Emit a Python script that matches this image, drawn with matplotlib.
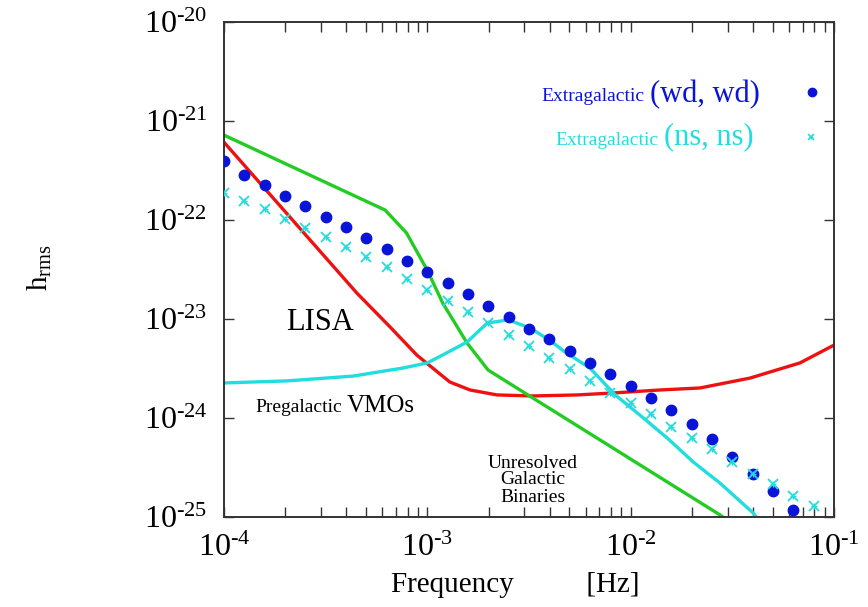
import numpy as np
import matplotlib
matplotlib.use("Agg")
import matplotlib.pyplot as plt
from matplotlib.ticker import LogLocator, NullFormatter, FixedLocator

# ---------------- data ----------------
# Extragalactic (wd, wd): frequencies 1e-4 * 10^(0.1 k)
wd_exp = [-4.0 + 0.1 * k for k in range(29)]
wd_h = [3.9e-22, 2.85e-22, 2.26e-22, 1.75e-22, 1.38e-22, 1.07e-22, 8.5e-23, 6.6e-23,
        5.1e-23, 3.85e-23, 2.98e-23, 2.31e-23, 1.79e-23, 1.35e-23, 1.05e-23, 7.9e-24,
        6.3e-24, 4.75e-24, 3.6e-24, 2.78e-24, 2.1e-24, 1.59e-24, 1.2e-24, 8.7e-25,
        6.1e-25, 4.0e-25, 2.7e-25, 1.83e-25, 1.18e-25]

# Extragalactic (ns, ns)
ns_exp = [-4.0 + 0.1 * k for k in range(30)]
ns_h = [1.87e-22, 1.56e-22, 1.29e-22, 1.02e-22, 8.3e-23, 6.7e-23, 5.3e-23, 4.2e-23,
        3.35e-23, 2.53e-23, 1.96e-23, 1.52e-23, 1.18e-23, 9.1e-24, 6.9e-24, 5.3e-24,
        4.0e-24, 3.1e-24, 2.37e-24, 1.79e-24, 1.42e-24, 1.10e-24, 8.1e-25, 6.3e-25,
        4.9e-25, 3.6e-25, 2.7e-25, 2.15e-25, 1.63e-25, 1.29e-25]

# LISA sensitivity
lisa_f = [1e-4, 4.5e-4, 6.56e-4, 8.9e-4, 1.29e-3, 1.62e-3, 2.2e-3, 3.3e-3, 5.45e-3,
          8.2e-3, 1.4e-2, 2.19e-2, 3.86e-2, 6.8e-2, 1e-1]
lisa_h = [6.1e-22, 1.83e-23, 8.3e-24, 4.3e-24, 2.31e-24, 1.92e-24, 1.71e-24, 1.67e-24,
          1.71e-24, 1.79e-24, 1.92e-24, 2.01e-24, 2.53e-24, 3.6e-24, 5.45e-24]

# Unresolved galactic binaries
gal_f = [1e-4, 6.2e-4, 7.9e-4, 1.0e-3, 1.19e-3, 1.57e-3, 1.99e-3, 2.75e-2, 3.2e-2]
gal_h = [7.2e-22, 1.26e-22, 7.4e-23, 3.1e-23, 1.45e-23, 5.7e-24, 3.05e-24, 1.05e-25, 8.3e-26]

# Pregalactic VMOs
vmo_f = [1e-4, 2.04e-4, 4.31e-4, 7.6e-4, 1.0e-3, 1.19e-3, 1.57e-3, 1.97e-3, 2.5e-3,
         3.2e-3, 4.0e-3, 4.75e-3, 6.3e-3, 8.4e-3, 1.11e-2, 1.51e-2, 2.03e-2, 2.75e-2,
         4.0e-2, 4.4e-2]
vmo_h = [2.26e-24, 2.37e-24, 2.65e-24, 3.2e-24, 3.6e-24, 4.33e-24, 5.86e-24, 9.1e-24,
         9.8e-24, 8.1e-24, 6.1e-24, 4.65e-24, 3.2e-24, 1.71e-24, 1.07e-24, 6.3e-25,
         3.6e-25, 2.2e-25, 1.1e-25, 8.5e-26]

x_ticks = [1e-4, 1e-3, 1e-2, 1e-1]
x_exps = ["-4", "-3", "-2", "-1"]
y_ticks = [1e-25, 1e-24, 1e-23, 1e-22, 1e-21, 1e-20]
y_exps = ["-25", "-24", "-23", "-22", "-21", "-20"]

wd_f = [10 ** e for e in wd_exp]
ns_f = [10 ** e for e in ns_exp]

# ---------------- plot ----------------
serif = ["Liberation Serif", "DejaVu Serif"]
plt.rcParams["font.family"] = serif
plt.rcParams["mathtext.fontset"] = "custom"
plt.rcParams["mathtext.rm"] = "Liberation Serif"
plt.rcParams["mathtext.it"] = "Liberation Serif"
plt.rcParams["axes.unicode_minus"] = False

fig = plt.figure(figsize=(8.68, 6.07), dpi=100)
ax = fig.add_axes([224 / 868, 1 - 517 / 607, (834 - 224) / 868, (517 - 22) / 607])

red = "#ee1111"
green = "#22cc22"
cyan = "#22dddd"
blue = "#0a14d8"

ax.plot(lisa_f, lisa_h, color=red, lw=2.4)
ax.plot(gal_f, gal_h, color=green, lw=2.4)
ax.plot(vmo_f, vmo_h, color=cyan, lw=2.4)
ax.plot(wd_f, wd_h, ls="none", marker="o", ms=7.5, color=blue, zorder=3)
ax.plot(ns_f, ns_h, ls="none", marker="x", ms=7, mew=1.3, color=cyan, zorder=3)
ax.plot(ns_f, ns_h, ls="none", marker="+", ms=4, mew=0.8, color=cyan, zorder=3)

ax.set_xscale("log")
ax.set_yscale("log")
ax.set_xlim(1e-4, 1e-1)
ax.set_ylim(1e-25, 1e-20)

ax.xaxis.set_major_locator(FixedLocator(x_ticks))
ax.xaxis.set_minor_locator(LogLocator(base=10, subs=np.arange(2, 10)))
ax.xaxis.set_minor_formatter(NullFormatter())
ax.yaxis.set_major_locator(FixedLocator(y_ticks))
ax.yaxis.set_minor_locator(FixedLocator([]))

ax.set_xticklabels([r"$10^{\mathrm{%s}}$" % e.replace("-", "\u2010") for e in x_exps])
ax.set_yticklabels([r"$10^{\mathrm{%s}}$" % e.replace("-", "\u2010") for e in y_exps])

ax.tick_params(which="both", direction="in", top=True, right=True, length=7,
               width=1.0, color="#333333", labelsize=23)
ax.tick_params(axis="y", which="major", pad=12)
ax.tick_params(axis="x", which="major", pad=12)
for s in ax.spines.values():
    s.set_linewidth(1.4)
    s.set_color("#333333")

fig.text(515 / 868, 1 - 585 / 607, "Frequency          [Hz]", ha="center", va="center",
         fontsize=21)
fig.text(40 / 868, 1 - 268 / 607, r"h$_{\rm rms}$", rotation=90, ha="center",
         va="center", fontsize=21)

# annotations
fig.text(320 / 868, 1 - 322 / 607, "LISA", ha="center", va="center", fontsize=22)

fig.text(342 / 868, 1 - 408 / 607, "Pregalactic", ha="right", va="center", fontsize=14)
fig.text(347 / 868, 1 - 406 / 607, "VMOs", ha="left", va="center", fontsize=18)

fig.text(533 / 868, 1 - 480 / 607, "Unresolved\nGalactic\nBinaries", ha="center",
         va="center", fontsize=14, linespacing=1.0)

fig.text(645 / 868, 1 - 97 / 607, "Extragalactic", ha="right", va="center",
         fontsize=14, color=blue)
fig.text(650 / 868, 1 - 95 / 607, "(wd, wd)", ha="left", va="center",
         fontsize=22, color=blue)
fig.text(659 / 868, 1 - 140 / 607, "Extragalactic", ha="right", va="center",
         fontsize=14, color=cyan)
fig.text(664 / 868, 1 - 137 / 607, "(ns, ns)", ha="left", va="center",
         fontsize=22, color=cyan)

# legend markers (axes fraction coordinates)
ax.plot([(812 - 224) / 610], [(517 - 92) / 495], transform=ax.transAxes, marker="o",
        ms=6, color=blue, ls="none", clip_on=False)
ax.plot([(811 - 224) / 610], [(517 - 137) / 495], transform=ax.transAxes, marker="x",
        ms=5, mew=1.2, color=cyan, ls="none", clip_on=False)
ax.plot([(811 - 224) / 610], [(517 - 137) / 495], transform=ax.transAxes, marker="+",
        ms=3, mew=0.8, color=cyan, ls="none", clip_on=False)

fig.savefig("out.png", dpi=100)
